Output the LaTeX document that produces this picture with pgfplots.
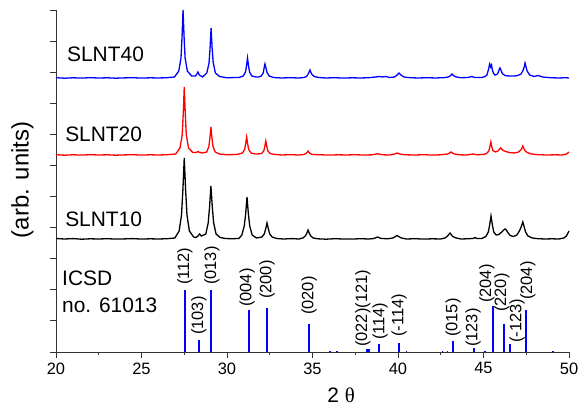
\documentclass[border=0pt]{standalone}
\usepackage{fontspec}
\setmainfont{Liberation Sans}
\newfontfamily\serifgr{Liberation Serif}
\usepackage{pgfplots}
\pgfplotsset{compat=1.18}
\begin{document}
\begin{tikzpicture}
\begin{axis}[name=main, scale only axis, width=513bp, height=342bp,
  xmin=20, xmax=50, ymin=0, ymax=342,
  axis x line*=bottom, axis y line*=left,
  axis line style={-, line width=0.9bp, black!80},
  every tick/.style={black!80, line width=0.9bp},
  tick align=outside,
  xtick={20,25,...,50}, minor xtick={22.5,27.5,...,47.5},
  major tick length=5.5bp, minor tick length=3bp,
  ytick={0,31.1,62.2,93.3,124.4,155.5,186.6,217.7,248.8,279.9,311,342},
  yticklabels={},
  /pgf/number format/assume math mode=true,
  xticklabel style={font=\fontsize{16.5}{18}\selectfont, yshift=-1.5bp},
  clip=false]

% SLNT10 (black)
\addplot[black, line width=1.3bp] coordinates {
(20,113.5)(20.5,113)(21,113.4)(21.5,112.8)(22,113.2)(22.5,113)(23,113.3)(23.5,112.9)(24,113.1)(24.5,113.4)(25,112.9)(25.5,113.2)(26,113)(26.5,113.3)(26.95,114)
(27.2,121)(27.34,137)(27.42,162)(27.5,194)(27.58,162)(27.66,137)(27.8,121)(28.05,115)(28.2,114.5)
(28.3,116)(28.4,118)(28.5,116)
(28.76,118)(28.9,129)(28.98,145)(29.06,166)(29.14,145)(29.22,129)(29.36,118)(29.6,114.5)(29.9,113.5)
(30.3,113.2)(30.7,113.6)
(30.87,117)(31.01,126)(31.09,138)(31.17,155)(31.25,138)(31.33,126)(31.47,117)(31.72,114)
(32.04,115)(32.18,118)(32.26,123)(32.34,129)(32.42,123)(32.5,118)(32.64,115)(32.9,113.5)
(33.3,113)(33.8,113.4)(34.2,113)
(34.44,114)(34.58,116)(34.66,118.5)(34.74,122)(34.82,118.5)(34.9,116)(35.04,114)(35.3,113.2)
(35.8,112.8)(36.3,113.3)(36.8,113)(37.3,112.9)(37.8,113.3)(38.3,113)
(38.6,113.5)(38.8,115)(39.0,113.6)(39.4,113.2)
(39.7,114)(39.85,115.5)(39.94,116.5)(40.03,115.5)(40.2,114)(40.5,113)
(41,113.3)(41.5,112.9)(42,113.2)(42.5,113)
(42.75,114)(42.9,116)(42.97,117.5)(43.04,119)(43.11,117.5)(43.2,115.5)(43.4,114)(43.7,113)
(44,113.2)(44.4,113.5)(44.5,114.5)(44.6,113.6)(44.9,113.5)
(45.14,115.5)(45.28,120)(45.36,127)(45.44,136)(45.52,127)(45.6,120)(45.74,117)(45.9,117.5)
(46.0,119)(46.1,120.5)(46.18,122)(46.26,123)(46.34,122)(46.42,119.5)(46.56,116.5)(46.75,115.5)(46.95,117)
(47.1,121)(47.2,125)(47.3,130)(47.38,125)(47.46,120)(47.6,116)(47.85,114)(48.2,113.3)
(48.6,113)(49,113.2)(49.4,113)(49.7,114)(49.85,116)(50,121)
};

% SLNT20 (red)
\addplot[red, line width=1.3bp] coordinates {
(20,197.3)(20.5,196.8)(21,197.2)(21.5,196.9)(22,197.3)(22.5,197)(23,197.2)(23.5,196.8)(24,197.1)(24.5,197.3)(25,196.9)(25.5,197.2)(26,197)(26.5,197.3)(27.0,198)
(27.25,204)(27.38,217)(27.44,238)(27.5,265)(27.56,238)(27.62,217)(27.75,204)(28.0,199.5)(28.2,199.5)(28.3,200.5)(28.4,199.5)
(28.56,199)(28.81,200)(28.94,205.5)(29.0,214)(29.06,225)(29.12,214)(29.18,205.5)(29.31,200)(29.56,198)
(30,197.2)(30.5,197.5)
(30.65,197.8)(30.9,199)(31.03,202.5)(31.09,208)(31.15,215)(31.21,208)(31.27,202.5)(31.4,199)(31.65,198)
(31.77,198)(32.02,198.5)(32.15,201)(32.21,205.5)(32.27,211)(32.33,205.5)(32.39,201)(32.52,198.5)(32.77,197.6)
(33.2,197)(33.7,197.3)(34.2,197)
(34.5,197.5)(34.62,198.5)(34.68,199.5)(34.74,201)(34.8,199.5)(34.86,198.5)(35.0,197.5)
(35.5,197.2)(36,196.9)(36.5,197.2)(37,197)(37.5,197.3)(38,196.9)(38.5,197.2)(38.8,198.2)(39.1,197.2)(39.5,197)
(39.8,198)(39.95,199)(40.1,198)(40.4,197.2)(41,197)(41.5,197.3)(42,196.9)(42.5,197.2)
(42.9,198)(43.02,199)(43.1,200)(43.18,199)(43.3,198)(43.6,197.2)(44,197)(44.4,198)(44.6,197.3)(45.0,197.5)
(45.18,198.5)(45.31,201)(45.37,205)(45.43,210)(45.49,205)(45.55,201.5)(45.7,200)(45.85,201)
(45.94,203)(46.0,204)(46.06,203)(46.15,201.5)(46.3,200.5)(46.5,199.5)(46.8,199)
(47.05,200)(47.18,202)(47.24,203.5)(47.3,206)(47.36,203.5)(47.42,201.5)(47.55,199.5)(47.8,198)(48.2,197.3)
(48.7,197)(49.2,197.2)(49.6,197)(49.8,197.6)(49.9,198.5)(50,200)
};

% SLNT40 (blue)
\addplot[blue, line width=1.3bp] coordinates {
(20,274.3)(20.5,273.8)(21,274.2)(21.5,273.9)(22,274.3)(22.5,274)(23,274.2)(23.5,273.8)(24,274.1)(24.5,274.3)(25,273.9)(25.5,274.2)(26,274)(26.5,274.3)(26.93,275)
(27.18,281)(27.31,294)(27.37,315)(27.43,342)(27.49,315)(27.55,294)(27.68,281)(27.93,276)(28.15,276)
(28.22,277.5)(28.3,280)(28.38,277)
(28.57,275)(28.82,279)(28.95,289)(29.01,304)(29.07,324)(29.13,304)(29.19,290)(29.32,279)(29.57,275.5)
(30,274.2)(30.5,274.5)
(30.7,274.5)(30.95,276)(31.08,280)(31.14,286)(31.2,294)(31.26,286)(31.32,280)(31.45,276)(31.7,275)
(31.85,275)(32.0,276)(32.12,279)(32.17,284)(32.22,288)(32.28,284)(32.34,279.5)(32.47,276)(32.72,274.5)
(33.2,274)(33.7,274.3)(34.2,274)
(34.5,274.5)(34.65,275.5)(34.73,277.5)(34.79,279.5)(34.85,282)(34.91,279.5)(34.97,277.5)(35.1,275.5)(35.35,274.5)
(35.8,274)(36.3,274.3)(36.8,273.9)(37.3,274.2)(37.8,274)(38.3,274.3)(38.7,275)(38.9,275.5)(39.1,275)(39.3,275.5)(39.5,274.5)
(39.8,275)(39.95,277)(40.06,279)(40.17,277)(40.35,275)(40.7,274.3)(41.2,274)(41.7,274.3)(42.2,274)(42.7,274.4)
(42.95,275)(43.08,276.5)(43.16,278)(43.24,276.5)(43.4,275)(43.7,274.3)(44.1,274.5)(44.3,275.5)(44.5,274.5)(44.9,274.5)(45.1,275.5)
(45.2,277)(45.3,283)(45.36,288)(45.42,285)(45.47,287)(45.53,281)(45.65,277)(45.78,277.5)
(45.85,279)(45.91,282)(45.96,284)(46.02,282)(46.1,278.5)(46.25,276.5)(46.5,276)(46.8,276)(47.0,276.5)
(47.2,278)(47.32,282)(47.38,285)(47.43,289)(47.48,285.5)(47.55,281)(47.7,277)(47.95,275.5)(48.2,276.5)(48.45,275)
(48.9,274.3)(49.4,274)(49.8,274.3)(50,274)
};

% ICSD sticks
\addplot[blue, ycomb, line width=1.8bp, mark=none] coordinates {
(27.54,62)(28.38,12)(29.08,62)(31.27,42)(32.33,44)(34.8,28)(36.0,1.5)(36.45,1.5)
(38.2,3)(38.3,3)(38.9,8)(40.06,9)(40.5,1.5)(42.6,1)(42.9,1.5)(43.2,11)(44.44,4)
(45.1,1.5)(45.57,46)(46.2,28)(46.55,8)(47.49,42)(49.06,1.5)
};

\begin{scope}[every node/.style={rotate=90, anchor=west, inner sep=0pt, font=\fontsize{16.5}{18}\selectfont}]
\node at (axis cs:27.54,67) {(112)};
\node at (axis cs:28.36,17) {(103)};
\node at (axis cs:29.12,67) {(013)};
\node at (axis cs:31.17,45) {(004)};
\node at (axis cs:32.34,53) {(200)};
\node at (axis cs:34.8,37) {(020)};
\node at (axis cs:37.95,5) {(022)(121)};
\node at (axis cs:38.95,12) {(114)};
\node at (axis cs:40.06,15) {(-114)};
\node at (axis cs:43.22,15) {(015)};
\node at (axis cs:44.39,5) {(123)};
\node at (axis cs:45.2,49) {(204)};
\node at (axis cs:46.08,40) {(220)};
\node at (axis cs:46.96,9) {(-123)};
\node at (axis cs:47.6,52) {(204)};
\end{scope}

\begin{scope}[every node/.style={anchor=base west, inner sep=0pt, font=\fontsize{21}{24}\selectfont}]
\node at (axis cs:20.64,290) {SLNT40};
\node at (axis cs:20.53,210) {SLNT20};
\node at (axis cs:20.53,125) {SLNT10};
\node at (axis cs:20.35,67) {ICSD};
\node at (axis cs:20.35,40) {no. 61013};
\end{scope}

\node[yshift=-50bp, anchor=base, inner sep=0pt, font=\fontsize{21}{24}\selectfont] at (axis cs:36.67,0) {2 {\serifgr θ}};
\node[xshift=-33.5bp, rotate=90, inner sep=0pt, font=\fontsize{24}{28}\selectfont] at (rel axis cs:0,0.503) {(arb. units)};
\end{axis}
\pgfresetboundingbox
\path[use as bounding box] ([xshift=-56bp,yshift=-57bp]main.south west) rectangle ([xshift=12bp,yshift=10bp]main.north east);
\end{tikzpicture}
\end{document}
